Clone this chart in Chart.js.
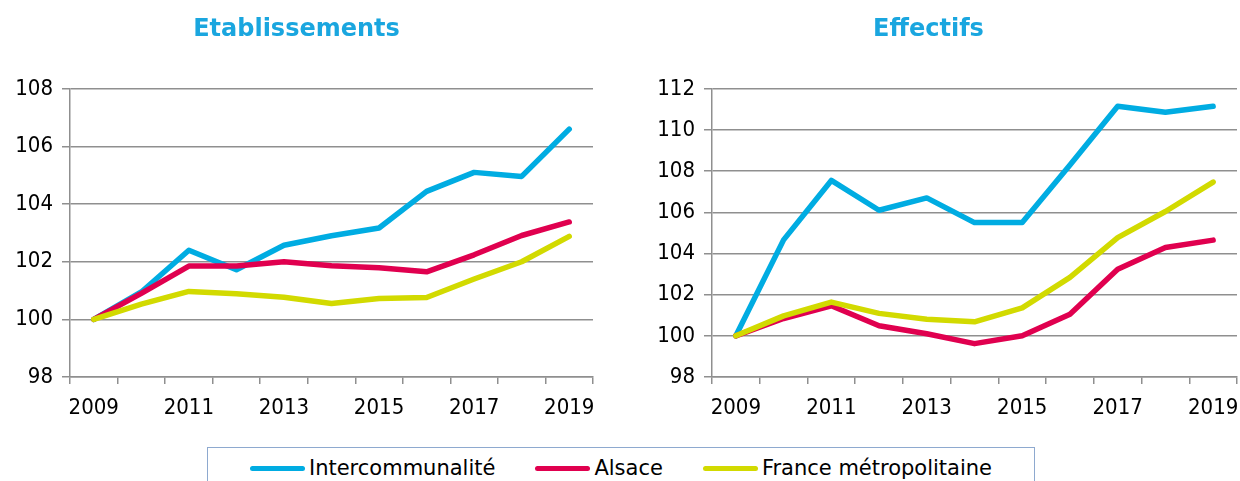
<!DOCTYPE html>
<html>
<head>
<meta charset="utf-8">
<script src="https://cdn.jsdelivr.net/npm/chart.js@4"></script>
<style>
  body { margin: 0; background: #fff; width: 1240px; height: 481px; overflow: hidden; position: relative; }
  .box { position: absolute; top: 0; height: 430px; }
  #legend {
    position: absolute; left: 207px; top: 447px; width: 828px; height: 60px;
    border: 1.5px solid #8ea9cf; box-sizing: border-box;
    display: flex; justify-content: center; align-items: flex-start; padding-top: 8px;
    font-family: 'DejaVu Sans', sans-serif; font-size: 21px; color: #000;
  }
  .item { display: flex; align-items: center; margin: 0 20px; }
  .swatch { width: 55px; height: 5px; border-radius: 3px; margin-right: 4px; }
</style>
</head>
<body>
<div class="box" style="left:0;width:605px"><canvas id="etabChart" width="605" height="430"></canvas></div>
<div class="box" style="left:620px;width:620px"><canvas id="effChart" width="620" height="430"></canvas></div>
<div id="legend">
  <div class="item"><span class="swatch" style="background:#00acE2"></span>Intercommunalité</div>
  <div class="item"><span class="swatch" style="background:#e0004f"></span>Alsace</div>
  <div class="item"><span class="swatch" style="background:#d2da00"></span>France métropolitaine</div>
</div>
<script>
const years = ['2009', '2010', '2011', '2012', '2013', '2014', '2015', '2016', '2017', '2018', '2019'];

// Etablissements
const etabInter  = [100, 100.95, 102.4, 101.72, 102.57, 102.9, 103.17, 104.44, 105.1, 104.96, 106.6];
const etabAlsace = [100, 100.9, 101.85, 101.85, 102.0, 101.86, 101.79, 101.65, 102.24, 102.91, 103.38];
const etabFrance = [100, 100.53, 100.97, 100.89, 100.77, 100.55, 100.72, 100.76, 101.4, 102.0, 102.88];

// Effectifs
const effInter  = [100, 104.66, 107.55, 106.1, 106.7, 105.5, 105.5, 108.3, 111.15, 110.86, 111.15];
const effAlsace = [100, 100.84, 101.46, 100.49, 100.1, 99.62, 100.0, 101.05, 103.23, 104.29, 104.65];
const effFrance = [100, 100.97, 101.64, 101.09, 100.81, 100.68, 101.36, 102.84, 104.77, 106.04, 107.47];

const seriesNames = ['Intercommunalité', 'Alsace', 'France métropolitaine'];
const seriesColors = ['#00ace2', '#e0004f', '#d2da00'];

const tickFont = { family: "'Liberation Sans Narrow', 'DejaVu Sans Condensed', 'Liberation Sans', sans-serif", size: 22 };
const gridColor = '#8f8f8f';

function makeChart(el, title, data, yMax, axisWidth, padRight) {
    return new Chart(el, {
        type: 'line',
        data: {
            labels: years,
            datasets: data.map((d, i) => ({
                label: seriesNames[i],
                data: d,
                borderColor: seriesColors[i],
                borderWidth: 5.5,
                pointRadius: 0,
                tension: 0,
                fill: false,
                borderCapStyle: 'round',
                borderJoinStyle: 'round',
                order: 3 - i
            }))
        },
        options: {
            responsive: false,
            animation: false,
            devicePixelRatio: 1,
            layout: { padding: { right: padRight, left: 0, bottom: 0 } },
            plugins: {
                legend: { display: false },
                tooltip: { enabled: false },
                title: {
                    display: true,
                    text: title,
                    color: '#1aa6df',
                    font: { family: "'DejaVu Sans', sans-serif", size: 24, weight: 'bold' },
                    padding: { top: 15, bottom: 45 }
                }
            },
            scales: {
                x: {
                    offset: true,
                    grid: { offset: true, drawOnChartArea: false, drawTicks: true, tickLength: 7, color: gridColor, lineWidth: 1.5 },
                    border: { display: true, color: gridColor, width: 1.5 },
                    ticks: {
                        autoSkip: false, maxRotation: 0, padding: 11, color: '#000', font: tickFont,
                        callback: function (v, i) { return i % 2 === 0 ? this.getLabelForValue(v) : ''; }
                    },
                    afterFit: (s) => { s.height = 53; s.paddingRight = 0; s.paddingLeft = 0; }
                },
                y: {
                    min: 98, max: yMax,
                    grid: { color: gridColor, lineWidth: 1.5, tickLength: 8 },
                    border: { display: true, color: gridColor, width: 1.5 },
                    ticks: { stepSize: 2, padding: 9, color: '#000', font: tickFont },
                    afterFit: (s) => { s.width = axisWidth; }
                }
            }
        }
    });
}

makeChart(document.querySelector('#etabChart'), 'Etablissements', [etabInter, etabAlsace, etabFrance], 108, 70, 12);
makeChart(document.querySelector('#effChart'), 'Effectifs', [effInter, effAlsace, effFrance], 112, 92, 3);
</script>
</body>
</html>
